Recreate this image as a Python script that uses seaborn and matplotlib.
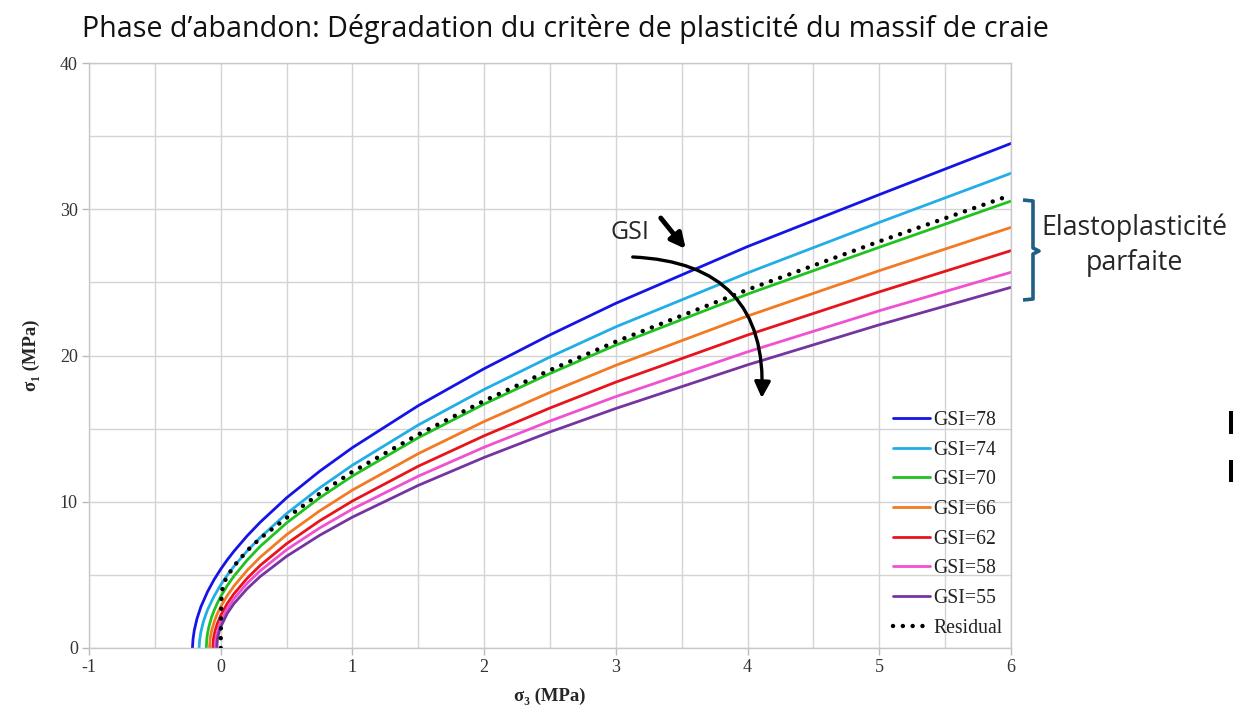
import numpy as np
import pandas as pd
import matplotlib
matplotlib.use("Agg")
import matplotlib.pyplot as plt
from matplotlib.lines import Line2D
from matplotlib.path import Path
from matplotlib.patches import PathPatch, Rectangle
import seaborn as sns

# Hoek-Brown failure envelopes (sigma3, sigma1) in MPa, one pair of arrays per GSI
s3_gsi78 = [-0.2147, -0.21, -0.2, -0.18, -0.15, -0.1, -0.05, 0, 0.05, 0.1, 0.2, 0.3, 0.5, 0.75, 1, 1.5, 2, 2.5, 3, 4, 5, 6]
s1_gsi78 = [0, 0.63, 1.24, 2.01, 2.83, 3.85, 4.68, 5.39, 6.03, 6.61, 7.66, 8.6, 10.27, 12.08, 13.7, 16.57, 19.1, 21.41, 23.57, 27.45, 31.0, 34.5]

s3_gsi74 = [-0.1642, -0.16, -0.15, -0.13, -0.1, -0.05, 0, 0.05, 0.1, 0.2, 0.3, 0.5, 0.75, 1, 1.5, 2, 2.5, 3, 4, 5, 6]
s1_gsi74 = [0, 0.55, 1.13, 1.85, 2.61, 3.55, 4.32, 4.98, 5.58, 6.63, 7.56, 9.19, 10.94, 12.5, 15.25, 17.68, 19.9, 21.96, 25.65, 29.1, 32.46]

s3_gsi70 = [-0.1099, -0.105, -0.1, -0.09, -0.07, -0.05, -0.025, 0, 0.05, 0.1, 0.2, 0.3, 0.5, 0.75, 1, 1.5, 2, 2.5, 3, 4, 5, 6]
s1_gsi70 = [0, 0.68, 1.0, 1.45, 2.09, 2.57, 3.08, 3.52, 4.27, 4.91, 6.0, 6.95, 8.55, 10.26, 11.76, 14.38, 16.68, 18.77, 20.71, 24.2, 27.4, 30.56]

s3_gsi66 = [-0.085, -0.08, -0.075, -0.065, -0.045, -0.025, 0, 0.05, 0.1, 0.2, 0.3, 0.5, 0.75, 1, 1.5, 2, 2.5, 3, 4, 5, 6]
s1_gsi66 = [0, 0.63, 0.92, 1.33, 1.91, 2.36, 2.82, 3.59, 4.23, 5.3, 6.21, 7.75, 9.37, 10.8, 13.29, 15.49, 17.48, 19.33, 22.7, 25.8, 28.76]

s3_gsi62 = [-0.06, -0.055, -0.05, -0.04, -0.025, 0, 0.05, 0.1, 0.2, 0.3, 0.5, 0.75, 1, 1.5, 2, 2.5, 3, 4, 5, 6]
s1_gsi62 = [0, 0.61, 0.88, 1.27, 1.69, 2.23, 3.05, 3.7, 4.76, 5.65, 7.13, 8.69, 10.05, 12.43, 14.51, 16.41, 18.18, 21.4, 24.35, 27.17]

s3_gsi58 = [-0.04, -0.035, -0.03, -0.02, -0.01, 0, 0.05, 0.1, 0.2, 0.3, 0.5, 0.75, 1, 1.5, 2, 2.5, 3, 4, 5, 6]
s1_gsi58 = [0, 0.63, 0.9, 1.27, 1.55, 1.79, 2.69, 3.36, 4.42, 5.28, 6.72, 8.2, 9.5, 11.75, 13.73, 15.52, 17.19, 20.25, 23.06, 25.69]

s3_gsi55 = [-0.03, -0.025, -0.02, -0.01, 0, 0.05, 0.1, 0.2, 0.3, 0.5, 0.75, 1, 1.5, 2, 2.5, 3, 4, 5, 6]
s1_gsi55 = [0, 0.58, 0.83, 1.18, 1.44, 2.37, 3.03, 4.05, 4.89, 6.27, 7.7, 8.95, 11.12, 13.03, 14.77, 16.38, 19.36, 22.1, 24.66]

s3_residual = [0, 0.002, 0.005, 0.012, 0.03, 0.05, 0.1, 0.2, 0.3, 0.5, 0.75, 1, 1.5, 2, 2.5, 3, 4, 5, 6]
s1_residual = [0, 2.0, 3.3, 4.0, 4.55, 4.9, 5.6, 6.65, 7.5, 8.9, 10.55, 12.05, 14.6, 16.9, 19.0, 20.95, 24.5, 27.8, 30.97]

gsi_labels = ["GSI=78", "GSI=74", "GSI=70", "GSI=66", "GSI=62", "GSI=58", "GSI=55"]
gsi_s3 = [s3_gsi78, s3_gsi74, s3_gsi70, s3_gsi66, s3_gsi62, s3_gsi58, s3_gsi55]
gsi_s1 = [s1_gsi78, s1_gsi74, s1_gsi70, s1_gsi66, s1_gsi62, s1_gsi58, s1_gsi55]
gsi_colors = ["#1414E6", "#21AEE6", "#1FC21F", "#F27A22", "#E8141C", "#F050D2", "#7535A0"]

x_ticks = [-1, 0, 1, 2, 3, 4, 5, 6]
y_ticks = [0, 10, 20, 30, 40]

W, H = 1233, 709
sns.set_theme(style="white")
serif = ["Liberation Serif", "DejaVu Serif"]
sans = ["Open Sans", "DejaVu Sans"]

fig = plt.figure(figsize=(W / 100, H / 100), dpi=100)
ax = fig.add_axes([89 / W, 1 - 648 / H, (1011 - 89) / W, (648 - 63) / H])


def px(x, y):
    return (x / W, 1 - y / H)


frames = []
for lab, xs, ys in zip(gsi_labels, gsi_s3, gsi_s1):
    frames.append(pd.DataFrame({"s3": xs, "s1": ys, "curve": lab}))
df = pd.concat(frames, ignore_index=True)

sns.lineplot(data=df, x="s3", y="s1", hue="curve", hue_order=gsi_labels,
             palette=gsi_colors, sort=False, estimator=None, linewidth=2.0,
             legend=False, ax=ax)

dot_style = (0, (0.01, 2.2))
res = pd.DataFrame({"s3": s3_residual, "s1": s1_residual})
sns.lineplot(data=res, x="s3", y="s1", sort=False, estimator=None, color="black",
             linewidth=3.2, ax=ax, linestyle=dot_style,
             dash_capstyle="round", zorder=5)

ax.set_xlim(-1, 6)
ax.set_ylim(0, 40)
ax.set_xticks(x_ticks)
ax.set_yticks(y_ticks)
ax.set_xticks(np.arange(-1, 6.01, 0.5), minor=True)
ax.set_yticks(np.arange(0, 40.1, 5), minor=True)
ax.set_xticklabels([str(v) for v in x_ticks], family=serif, fontsize=13, color="#333333")
ax.set_yticklabels([str(v) for v in y_ticks], family=serif, fontsize=13, color="#333333")
ax.grid(True, which="both", color="#D4D4D4", linewidth=1.0)
ax.tick_params(axis="both", which="major", length=5, width=1, color="#BBBBBB",
               direction="out", bottom=True, left=True, pad=3)
ax.tick_params(axis="both", which="minor", length=0)
for sp in ax.spines.values():
    sp.set_color("#C8C8C8")
    sp.set_linewidth(1.0)
ax.set_axisbelow(True)

ax.set_xlabel("σ₃ (MPa)", family=serif, fontsize=13.5, fontweight="bold", labelpad=8)
ax.set_ylabel("σ₁ (MPa)", family=serif, fontsize=13.5, fontweight="bold", labelpad=14)

# legend
handles = [Line2D([0], [0], color=c, lw=2.0) for c in gsi_colors]
handles.append(Line2D([0], [0], color="black", lw=3.2, linestyle=dot_style,
                      dash_capstyle="round"))
leg = fig.legend(handles, gsi_labels + ["Residual"], loc="upper left",
                 bbox_to_anchor=px(893, 411), frameon=False,
                 prop={"family": serif, "size": 14.2}, handlelength=1.88,
                 handletextpad=0.15, labelspacing=0.54, borderaxespad=0,
                 borderpad=0)
for t in leg.get_texts():
    t.set_color("#222222")

# title
fig.text(82 / W, 1 - 29 / H, "Phase d’abandon: Dégradation du critère de plasticité du massif de craie",
         family=sans, fontsize=20.6, ha="left", va="center", color="#111111")

# GSI trend annotation
ax.annotate("", xy=((686 - 221) / 131.7, (648 - 249) / 14.625),
            xytext=((661 - 221) / 131.7, (648 - 218) / 14.625),
            arrowprops=dict(arrowstyle="-|>", color="black", lw=3.5, mutation_scale=22,
                            shrinkA=0, shrinkB=0), zorder=6)
ax.annotate("", xy=((762 - 221) / 131.7, (648 - 398) / 14.625),
            xytext=((633 - 221) / 131.7, (648 - 257) / 14.625),
            arrowprops=dict(arrowstyle="-|>", color="black", lw=2.4, mutation_scale=24,
                            shrinkA=0, shrinkB=0, connectionstyle="arc3,rad=-0.5"),
            zorder=6)
fig.text(*px(630, 233), "GSI", family=sans, fontsize=18, ha="center", va="center")

# brace and label on the right
bx = [1023, 1033, 1033, 1039, 1033, 1033, 1023]
by = [200, 201, 248, 251, 254, 299, 300]
verts = [px(x, y) for x, y in zip(bx, by)]
brace = PathPatch(Path(verts), transform=fig.transFigure, fill=False,
                  edgecolor="#215E86", linewidth=2.6, joinstyle="round")
fig.add_artist(brace)
fig.text(*px(1134, 228), "Elastoplasticité", family=sans, fontsize=19.3, ha="center", va="center")
fig.text(*px(1134, 263), "parfaite", family=sans, fontsize=19.3, ha="center", va="center")

# two small marks at the right border
for y0, y1 in [(411, 434), (460, 482)]:
    fig.add_artist(Rectangle(px(1229, y1), 4 / W, (y1 - y0) / H,
                             transform=fig.transFigure, color="black", lw=0))

fig.savefig("out.png", dpi=100)
